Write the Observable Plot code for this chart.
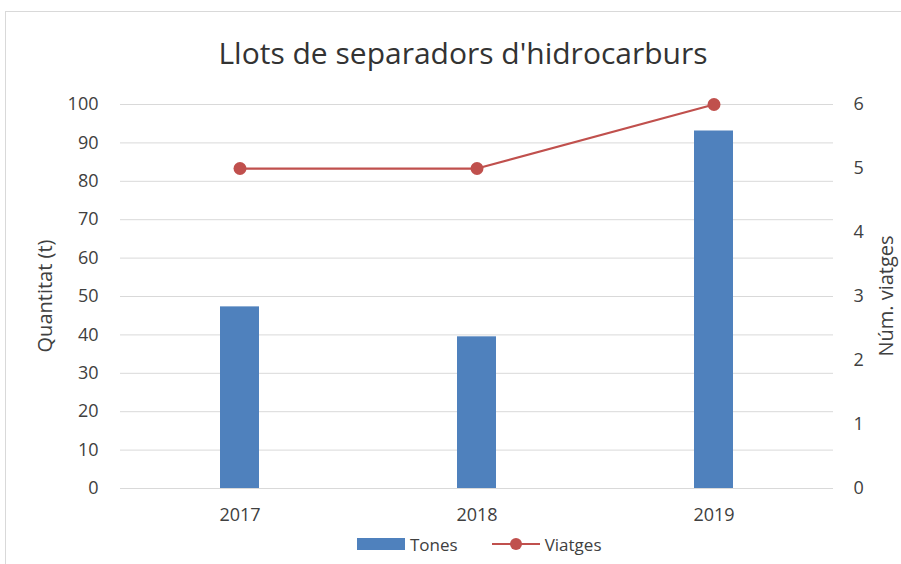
<!DOCTYPE html>
<html><head><meta charset="utf-8">
<script src="https://cdn.jsdelivr.net/npm/d3@7"></script>
<script src="https://cdn.jsdelivr.net/npm/@observablehq/plot@0.6"></script>
<style>
body{margin:0;overflow:hidden;background:#fff;font-family:"Open Sans","Liberation Sans",Arial,sans-serif;}
#wrap{position:relative;width:901px;height:564px;overflow:hidden;}
#frame{position:absolute;left:5px;top:11px;width:1000px;height:1000px;border:1px solid #d9d9d9;box-sizing:border-box;}
#chart{position:absolute;left:0;top:0;}
#legend{position:absolute;top:533px;left:357px;font-size:17px;color:#404040;display:flex;align-items:center;height:22px;}
.sw{display:inline-block;width:48px;height:12px;background:#4F81BD;margin-right:5px;}
.ln{display:inline-block;position:relative;width:48px;height:2px;background:#C0504D;margin-left:34px;margin-right:5px;}
.ln::after{content:"";position:absolute;left:18px;top:-5px;width:12px;height:12px;border-radius:50%;background:#C0504D;}
.vlab{position:absolute;width:300px;height:30px;line-height:30px;text-align:center;font-size:20px;color:#404040;transform:rotate(-90deg);white-space:nowrap;}
</style></head>
<body>
<div id="wrap"><div id="frame"></div><div id="chart"></div>
<div class="vlab" id="lab-left"></div>
<div class="vlab" id="lab-right"></div>
<div id="legend"><span class="sw"></span><span>Tones</span><span class="ln"></span><span>Viatges</span></div>
</div>
<script>
const years = ["2017", "2018", "2019"];
const tones = [47.3, 39.5, 93.1];
const viatges = [5, 5, 6];
const leftTicks = [0, 10, 20, 30, 40, 50, 60, 70, 80, 90, 100];
const rightTicks = [0, 1, 2, 3, 4, 5, 6];
const title = "Llots de separadors d'hidrocarburs";
const leftLabel = "Quantitat (t)";
const rightLabel = "Núm. viatges";

const k = 100 / 6;
const rows = years.map((y, i) => ({year: y, tones: tones[i], viatges: viatges[i], vs: viatges[i] * k}));

const chart = Plot.plot({
  width: 901, height: 564,
  marginLeft: 120, marginRight: 68, marginTop: 104, marginBottom: 76,
  style: {fontFamily: '"Open Sans","Liberation Sans",Arial,sans-serif', color: "#404040", background: "transparent"},
  x: {type: "band", domain: years, padding: 0},
  y: {domain: [0, 100]},
  marks: [
    Plot.gridY(leftTicks, {stroke: "#d9d9d9", strokeOpacity: 1, strokeWidth: 1}),
    Plot.barY(rows, {x: "year", y: "tones", fill: "#4F81BD", insetLeft: 99, insetRight: 99}),
    Plot.line(rows, {x: "year", y: "vs", stroke: "#C0504D", strokeWidth: 2.25}),
    Plot.dot(rows, {x: "year", y: "vs", fill: "#C0504D", r: 6.5}),
    Plot.axisY(leftTicks, {anchor: "left", tickSize: 0, tickPadding: 22, fontSize: 18, label: null}),
    Plot.axisY(rightTicks.map(v => v * k), {anchor: "right", tickSize: 0, tickPadding: 20, fontSize: 18, label: null, tickFormat: d => String(Math.round(d / k))}),
    Plot.axisX({tickSize: 0, tickPadding: 20, fontSize: 18, label: null}),
    Plot.text([title], {frameAnchor: "top", dx: -14, dy: -50, fontSize: 30, fill: "#333333", lineAnchor: "middle"})
  ]
});
document.getElementById("chart").appendChild(chart);

function placeLabel(id, text, cx, cy) {
  const el = document.getElementById(id);
  el.textContent = text;
  el.style.left = (cx - 150) + "px";
  el.style.top = (cy - 15) + "px";
}
placeLabel("lab-left", leftLabel, 45, 296);
placeLabel("lab-right", rightLabel, 886, 296);
</script>
</body></html>
